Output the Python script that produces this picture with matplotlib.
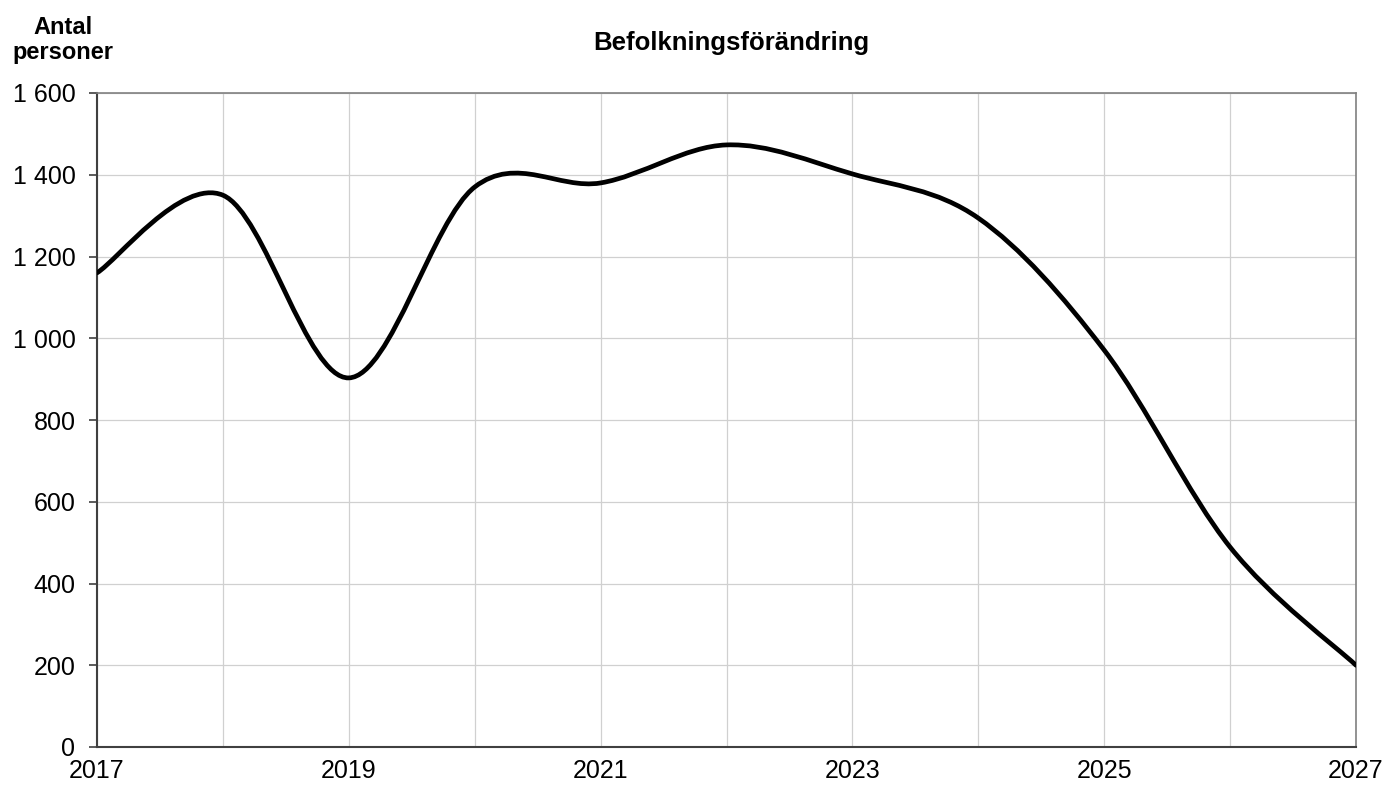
import numpy as np
import matplotlib
matplotlib.use('Agg')
import matplotlib.pyplot as plt
from matplotlib.path import Path
from matplotlib.patches import PathPatch

plt.rcParams['font.family'] = ['Liberation Sans', 'DejaVu Sans']

years = [2017, 2018, 2019, 2020, 2021, 2022, 2023, 2024, 2025, 2026, 2027]
values = [1160, 1350, 903, 1370, 1380, 1473, 1402, 1294, 971, 489, 200]
yticks = [0, 200, 400, 600, 800, 1000, 1200, 1400, 1600]
ytick_labels = ['0', '200', '400', '600', '800', '1 000', '1 200', '1 400', '1 600']
xticks = [2017, 2019, 2021, 2023, 2025, 2027]

fig = plt.figure(figsize=(13.86, 7.87), dpi=100)
ax = fig.add_axes([97/1386, 40/787, (1356-97)/1386, (747-93)/787])

# smoothed line like a spreadsheet: cubic bezier through the points
x = np.array(years, dtype=float)
y = np.array(values, dtype=float)
verts = [(x[0], y[0])]
codes = [Path.MOVETO]
n = len(x)
for i in range(n - 1):
    p0 = (x[max(i-1, 0)], y[max(i-1, 0)])
    p1 = (x[i], y[i])
    p2 = (x[i+1], y[i+1])
    p3 = (x[min(i+2, n-1)], y[min(i+2, n-1)])
    c1 = (p1[0] + (p2[0]-p0[0])/6, p1[1] + (p2[1]-p0[1])/6)
    c2 = (p2[0] - (p3[0]-p1[0])/6, p2[1] - (p3[1]-p1[1])/6)
    verts += [c1, c2, p2]
    codes += [Path.CURVE4]*3
ax.add_patch(PathPatch(Path(verts, codes), fill=False, lw=3.4, ec='black',
                       capstyle='round', joinstyle='round', zorder=3))

ax.set_xlim(2017, 2027)
ax.set_ylim(0, 1600)
ax.set_xticks(range(2017, 2028), minor=True)
ax.set_xticks(xticks)
ax.set_xticklabels([str(t) for t in xticks], fontsize=18)
ax.set_yticks(yticks)
ax.set_yticklabels(ytick_labels, fontsize=18)
ax.grid(True, which='both', color='#d0d0d0', lw=0.9)
ax.set_axisbelow(True)
ax.tick_params(axis='x', which='both', length=0, pad=9)
ax.tick_params(axis='y', length=5.5, width=1.2, color='#404040', pad=10)
for side in ['left', 'bottom']:
    ax.spines[side].set_color('#404040')
    ax.spines[side].set_linewidth(1.5)
for side in ['right', 'top']:
    ax.spines[side].set_color('#808080')
    ax.spines[side].set_linewidth(1.2)

fig.text(731/1386, 1 - 43/787, 'Befolkningsförändring', fontsize=18.5, fontweight='bold',
         ha='center', va='center')
fig.text(63/1386, 1 - 40/787, 'Antal\npersoner', fontsize=17, fontweight='bold',
         ha='center', va='center', linespacing=1.15)

fig.savefig('out.png', dpi=100)
